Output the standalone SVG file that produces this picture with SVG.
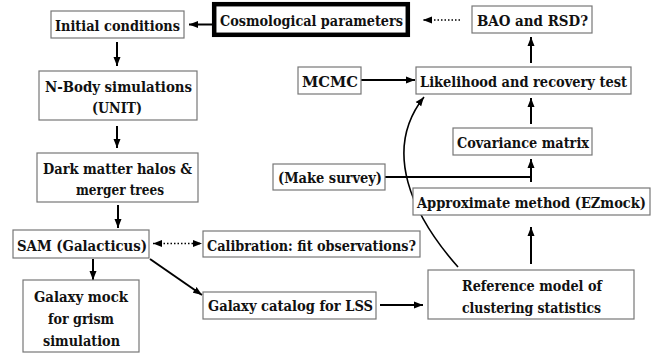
<svg xmlns="http://www.w3.org/2000/svg" width="671" height="353" viewBox="0 0 671 353">
<defs>
<marker id="ah" markerUnits="userSpaceOnUse" markerWidth="10" markerHeight="8" refX="9" refY="4" orient="auto-start-reverse"><path d="M0,0.5 L9,4 L0,7.5 Z" fill="#000"/></marker>
<style>
.box{fill:#fff;stroke:#777;stroke-width:1.2}
.thick{fill:#fff;stroke:#000;stroke-width:4.5}
.t{font-family:'DejaVu Serif Condensed','DejaVu Serif','Liberation Serif',serif;font-stretch:condensed;font-weight:bold;font-size:15px;fill:#111;text-anchor:middle}
.c{fill:none;stroke:#000;stroke-width:2}
.d{fill:none;stroke:#000;stroke-width:1.6;stroke-dasharray:1.5 2}
</style>
</defs>
<rect width="671" height="353" fill="#fff"/>
<g id="connectors">
<line class="c" x1="213" y1="24.5" x2="189" y2="24.5" marker-end="url(#ah)"/>
<line class="c" x1="117" y1="42" x2="117" y2="66" marker-end="url(#ah)"/>
<line class="c" x1="117" y1="126" x2="117" y2="148" marker-end="url(#ah)"/>
<line class="c" x1="118" y1="205" x2="118" y2="228" marker-end="url(#ah)"/>
<line class="c" x1="93" y1="259" x2="93" y2="280" marker-end="url(#ah)"/>
<line class="c" x1="150" y1="259" x2="202" y2="295" marker-end="url(#ah)"/>
<line class="d" x1="153" y1="243.5" x2="202" y2="243.5" marker-start="url(#ah)" marker-end="url(#ah)"/>
<line class="d" x1="460" y1="20" x2="423" y2="20" marker-end="url(#ah)"/>
<line class="c" x1="380" y1="305" x2="423" y2="305" marker-end="url(#ah)"/>
<line class="c" x1="531" y1="264" x2="531" y2="227" marker-end="url(#ah)"/>
<polyline class="c" points="385,177 531,177"/>
<line class="c" x1="531" y1="182" x2="531" y2="159" marker-end="url(#ah)"/>
<line class="c" x1="531" y1="124" x2="531" y2="98" marker-end="url(#ah)"/>
<line class="c" x1="531" y1="63" x2="531" y2="37" marker-end="url(#ah)"/>
<line class="c" x1="361" y1="80" x2="415" y2="80" marker-end="url(#ah)"/>
<path class="c" d="M458,267 C412,215 382,150 424,97" style="stroke-width:1.6" marker-end="url(#ah)"/>
</g>
<g id="cosmo"><rect class="thick" x="214.2" y="4.2" width="193.6" height="30.6"/><text class="t" x="311.5" y="26" textLength="183" lengthAdjust="spacingAndGlyphs">Cosmological parameters</text></g>
<g id="initial"><rect class="box" x="51" y="11" width="133" height="27"/><text class="t" x="117.5" y="30.5" textLength="125" lengthAdjust="spacingAndGlyphs">Initial conditions</text></g>
<g id="nbody"><rect class="box" x="39" y="71" width="158" height="49"/><text class="t" x="118.5" y="92" textLength="147" lengthAdjust="spacingAndGlyphs">N-Body simulations</text><text class="t" x="117" y="113" textLength="50" lengthAdjust="spacingAndGlyphs">(UNIT)</text></g>
<g id="darkmatter"><rect class="box" x="37" y="153" width="161" height="49"/><text class="t" x="117.5" y="174" textLength="149" lengthAdjust="spacingAndGlyphs">Dark matter halos &amp;</text><text class="t" x="120" y="195" textLength="88" lengthAdjust="spacingAndGlyphs">merger trees</text></g>
<g id="sam"><rect class="box" x="13" y="230" width="136" height="28"/><text class="t" x="82" y="250.5" textLength="130" lengthAdjust="spacingAndGlyphs">SAM (Galacticus)</text></g>
<g id="galaxymock"><rect class="box" x="23" y="280" width="116" height="72"/><text class="t" x="81" y="302" textLength="94" lengthAdjust="spacingAndGlyphs">Galaxy mock</text><text class="t" x="81" y="324" textLength="66" lengthAdjust="spacingAndGlyphs">for grism</text><text class="t" x="81.5" y="346" textLength="77" lengthAdjust="spacingAndGlyphs">simulation</text></g>
<g id="calibration"><rect class="box" x="203" y="231" width="217" height="26"/><text class="t" x="311.5" y="250.5" textLength="209" lengthAdjust="spacingAndGlyphs">Calibration: fit observations?</text></g>
<g id="galaxycatalog"><rect class="box" x="203" y="292" width="173" height="27"/><text class="t" x="290.5" y="311" textLength="165" lengthAdjust="spacingAndGlyphs">Galaxy catalog for LSS</text></g>
<g id="reference"><rect class="box" x="428" y="270" width="206" height="49"/><text class="t" x="532" y="291" textLength="140" lengthAdjust="spacingAndGlyphs">Reference model of</text><text class="t" x="531.5" y="312.5" textLength="139" lengthAdjust="spacingAndGlyphs">clustering statistics</text></g>
<g id="approx"><rect class="box" x="413" y="188" width="237" height="27"/><text class="t" x="531.5" y="207.5" textLength="229" lengthAdjust="spacingAndGlyphs">Approximate method (EZmock)</text></g>
<g id="makesurvey"><rect class="box" x="273" y="164" width="112" height="26"/><text class="t" x="330" y="183" textLength="104" lengthAdjust="spacingAndGlyphs">(Make survey)</text></g>
<g id="covariance"><rect class="box" x="453" y="128" width="139" height="27"/><text class="t" x="523" y="147.5" textLength="132" lengthAdjust="spacingAndGlyphs">Covariance matrix</text></g>
<g id="mcmc"><rect class="box" x="298" y="67" width="63" height="27"/><text class="t" x="330" y="86.5" textLength="56" lengthAdjust="spacingAndGlyphs">MCMC</text></g>
<g id="likelihood"><rect class="box" x="416" y="67" width="215" height="27"/><text class="t" x="523.5" y="86.5" textLength="207" lengthAdjust="spacingAndGlyphs">Likelihood and recovery test</text></g>
<g id="bao"><rect class="box" x="472" y="6" width="120" height="27"/><text class="t" x="532.5" y="25.5" textLength="111" lengthAdjust="spacingAndGlyphs">BAO and RSD?</text></g>
</svg>
